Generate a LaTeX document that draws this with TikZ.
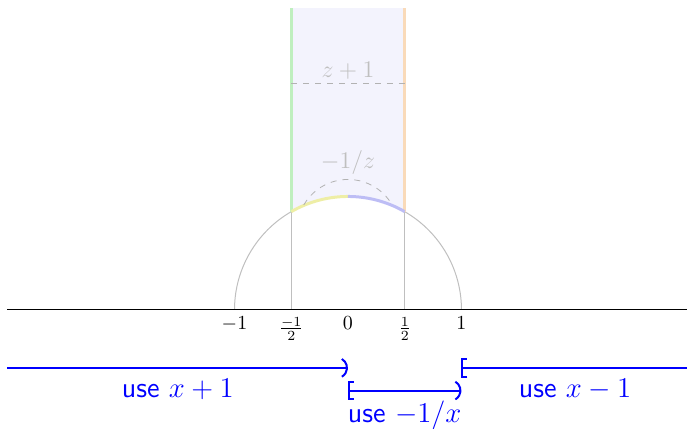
\documentclass[tikz,border=0pt]{standalone}
\usetikzlibrary{arrows.meta}
\definecolor{stripfill}{HTML}{F3F3FD}
\definecolor{leftedge}{HTML}{BFEFBF}
\definecolor{rightedge}{HTML}{F9DAB9}
\definecolor{leftarc}{HTML}{EEEEA6}
\definecolor{rightarc}{HTML}{BDBDF5}
\definecolor{guidegray}{HTML}{BFBFBF}

\begin{document}
\begin{tikzpicture}[x=2cm, y=2cm,
  guide/.style={guidegray, line width=0.5pt},
  edge/.style={line width=1.5pt},
  interval/.style={blue, line width=1pt},
  usetext/.style={blue, font=\Large\sffamily},
  hint/.style={gray!50, font=\large}]

\useasboundingbox (-3.066,-1.04) rectangle (2.987,2.731);

%%% Fundamental domain strip
\fill[stripfill] (-0.5,2.66) -- (-0.5,{sqrt(3)/2}) arc (120:60:1) -- (0.5,2.66) -- cycle;

% unit semicircle and the two guide lines
\draw[guide] (1,0) arc (0:180:1);
\draw[guide] (-0.5,0) -- (-0.5,{sqrt(3)/2});
\draw[guide] (0.5,0) -- (0.5,{sqrt(3)/2});

% coloured boundary pieces
\draw[leftedge, edge] (-0.5,{sqrt(3)/2}) -- (-0.5,2.66);
\draw[rightedge, edge] (0.5,{sqrt(3)/2}) -- (0.5,2.66);
\draw[leftarc, edge] (-0.5,{sqrt(3)/2}) arc (120:90:1);
\draw[rightarc, edge] (0,1) arc (90:60:1);

% translation z+1
\draw[gray!60, dashed] (-0.5,2) -- (0.5,2);
\node[hint, above, inner sep=2pt] (shift) at (0,1.99) {$z+1$};

% inversion -1/z
\draw[gray!60, dashed] ({0.45*cos(150)},{0.7+0.45*sin(150)}) arc (150:30:0.45);
\node[hint] (inv) at (0,1.3) {$-1/z$};

%%% Real axis
\coordinate (axl) at (-3.0,0);
\coordinate (axr) at (3.0,0);
\draw[black, line width=0.5pt] (axl) -- (axr);

\node[below] (mone) at (-1,0) {$-1$};
\node[below] (mhalf) at (-0.5,0) {$\frac{-1}{2}$};
\node[below] (zero) at (0,0) {$0$};
\node[below] (phalf) at (0.5,0) {$\frac{1}{2}$};
\node[below] (pone) at (1,0) {$1$};

%%% Which map to use
\coordinate (la) at (-3.0,-0.51);
\coordinate (lb) at (0,-0.51);
\coordinate (ma) at (0,-0.71);
\coordinate (mb) at (1,-0.71);
\coordinate (ra) at (1,-0.51);
\coordinate (rb) at (3.0,-0.51);

\draw[interval, -{Parenthesis[scale=1.4]}] (la) -- (lb);
\draw[interval, {Bracket[scale=1.4]}-{Parenthesis[scale=1.4]}] (ma) -- (mb);
\draw[interval, {Bracket[scale=1.4]}-] (ra) -- (rb);

\node[usetext] (useplus) at (-1.5,-0.7) {use $x+1$};
\node[usetext, inner sep=1pt] (useinv) at (0.5,-0.925) {use $-1/x$};
\node[usetext] (useminus) at (2.0,-0.7) {use $x-1$};

\end{tikzpicture}
\end{document}
